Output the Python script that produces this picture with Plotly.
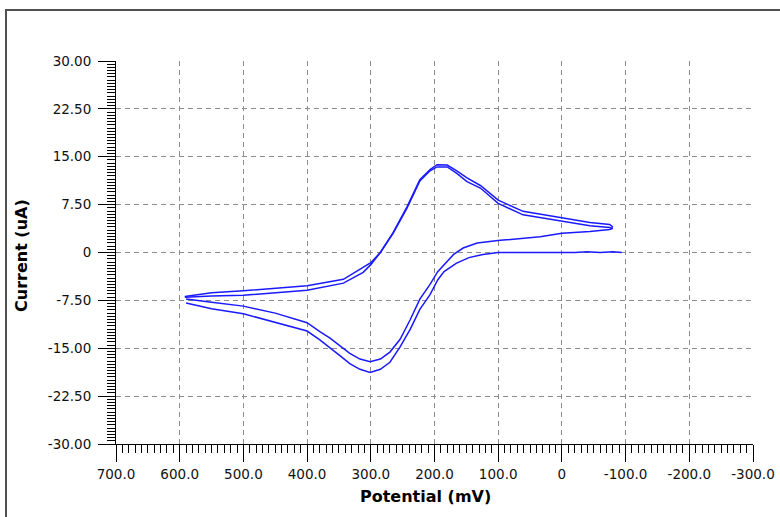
import plotly.graph_objects as go

# ---- data (potential in mV, current in uA) ----
fwd1_mv = [-94, -80, -60, -40, -20, 0, 50, 100, 124, 146, 166, 185, 195, 207, 223, 238, 254, 270, 285, 301,
           317, 333, 348, 364, 380, 400, 450, 500, 550, 590]
fwd1_ua = [0.0, 0.1, 0.0, 0.1, 0.0, 0.0, 0.0, 0.0, -0.3, -0.8, -1.7, -3.0, -4.3, -6.6, -8.9, -12.0, -14.8, -17.2, -18.3, -18.8,
           -18.3, -17.4, -16.2, -14.9, -13.7, -12.3, -10.9, -9.6, -8.8, -7.9]

rev1_mv = [592, 550, 500, 450, 400, 343, 312, 300, 285, 265, 243, 223, 207, 196, 180, 165, 149, 128, 100,
           61, 30, 0, -44, -75, -80]
rev1_ua = [-7.0, -6.8, -6.7, -6.3, -5.9, -4.8, -3.1, -1.9, 0.0, 3.1, 7.2, 11.4, 13.0, 13.75, 13.7, 12.8, 11.7, 10.5, 8.2,
           6.45, 5.9, 5.4, 4.7, 4.4, 4.0]

fwd2_mv = [-80, -75, -44, 0, 34, 66, 97, 133, 155, 170, 180, 195, 207, 223, 238, 254, 270, 285, 301,
           317, 333, 348, 364, 380, 400, 450, 500, 550, 590]
fwd2_ua = [3.8, 3.6, 3.3, 3.0, 2.45, 2.2, 1.9, 1.5, 0.7, -0.3, -1.35, -3.0, -5.0, -7.3, -10.5, -13.6, -15.6, -16.7, -17.1,
           -16.7, -15.8, -14.6, -13.4, -12.4, -11.0, -9.5, -8.4, -7.8, -7.3]

rev2_mv = [592, 550, 500, 450, 400, 343, 312, 300, 285, 265, 243, 223, 207, 196, 180, 165, 149, 128, 100,
           61, 30, 0, -44, -75, -80]
rev2_ua = [-6.9, -6.3, -6.0, -5.6, -5.2, -4.2, -2.3, -1.6, 0.0, 3.0, 7.0, 11.2, 12.8, 13.4, 13.4, 12.4, 11.1, 10.1, 7.7,
           5.9, 5.4, 4.9, 4.2, 3.9, 3.8]

x_ticks = [700, 600, 500, 400, 300, 200, 100, 0, -100, -200, -300]
x_ticklabels = ["700.0", "600.0", "500.0", "400.0", "300.0", "200.0", "100.0", "0", "-100.0", "-200.0", "-300.0"]
y_ticks = [30, 22.5, 15, 7.5, 0, -7.5, -15, -22.5, -30]
y_ticklabels = ["30.00", "22.50", "15.00", "7.50", "0", "-7.50", "-15.00", "-22.50", "-30.00"]

x_title = "Potential (mV)"
y_title = "Current (uA)"

LINE = "#1a1aff"
GRID = "#8c8c8c"
FONT = "DejaVu Sans"

fig = go.Figure()
for xs, ys in [(fwd1_mv, fwd1_ua), (rev1_mv, rev1_ua), (fwd2_mv, fwd2_ua), (rev2_mv, rev2_ua)]:
    fig.add_trace(go.Scatter(x=xs, y=ys, mode="lines", line=dict(color=LINE, width=1.5),
                             showlegend=False, hoverinfo="x+y"))

W, H = 780, 517
L, R, T, B = 116, 27, 61, 73
pw, ph = W - L - R, H - T - B

def px2paper_x(px):
    return (px - L) / pw

def py2paper_y(py):
    return (H - B - py) / ph

axis_common = dict(
    showline=True, linecolor="black", linewidth=1,
    ticks="outside", ticklen=17, tickcolor="black", tickwidth=1,
    showgrid=True, gridcolor=GRID, gridwidth=1, griddash="5px,4px",
    zeroline=False, tickfont=dict(family=FONT, size=13.5, color="#111"),
    mirror=False, automargin=False,
)

fig.update_xaxes(range=[700, -300], tickmode="array", tickvals=x_ticks, ticktext=x_ticklabels,
                 minor=dict(ticks="outside", ticklen=8, tickcolor="black", dtick=10, showgrid=False),
                 ticklabelstandoff=1, **axis_common)
fig.update_yaxes(range=[-30, 30], tickmode="array", tickvals=y_ticks, ticktext=y_ticklabels,
                 minor=dict(ticks="outside", ticklen=8, tickcolor="black", dtick=0.5, showgrid=False),
                 ticklabelstandoff=4, **axis_common)

fig.update_layout(
    width=W, height=H,
    margin=dict(l=L, r=R, t=T, b=B),
    paper_bgcolor="white", plot_bgcolor="white",
    font=dict(family=FONT, color="black"),
    annotations=[
        dict(text=x_title, xref="paper", yref="paper", x=px2paper_x(425), y=py2paper_y(497),
             showarrow=False, font=dict(family=FONT, size=16, color="black", weight="bold"),
             xanchor="center", yanchor="middle"),
        dict(text=y_title, xref="paper", yref="paper", x=px2paper_x(21), y=py2paper_y(256),
             showarrow=False, textangle=-90, font=dict(family=FONT, size=16, color="black", weight="bold"),
             xanchor="center", yanchor="middle"),
    ],
    shapes=[
        dict(type="rect", xref="paper", yref="paper",
             x0=px2paper_x(6), x1=px2paper_x(800), y0=py2paper_y(540), y1=py2paper_y(10),
             line=dict(color="#505050", width=2), fillcolor="rgba(0,0,0,0)", layer="below"),
    ],
)

fig.write_html("out.html", config={"displayModeBar": False},
               post_script="document.body.style.margin='0';document.body.style.overflow='hidden';")
